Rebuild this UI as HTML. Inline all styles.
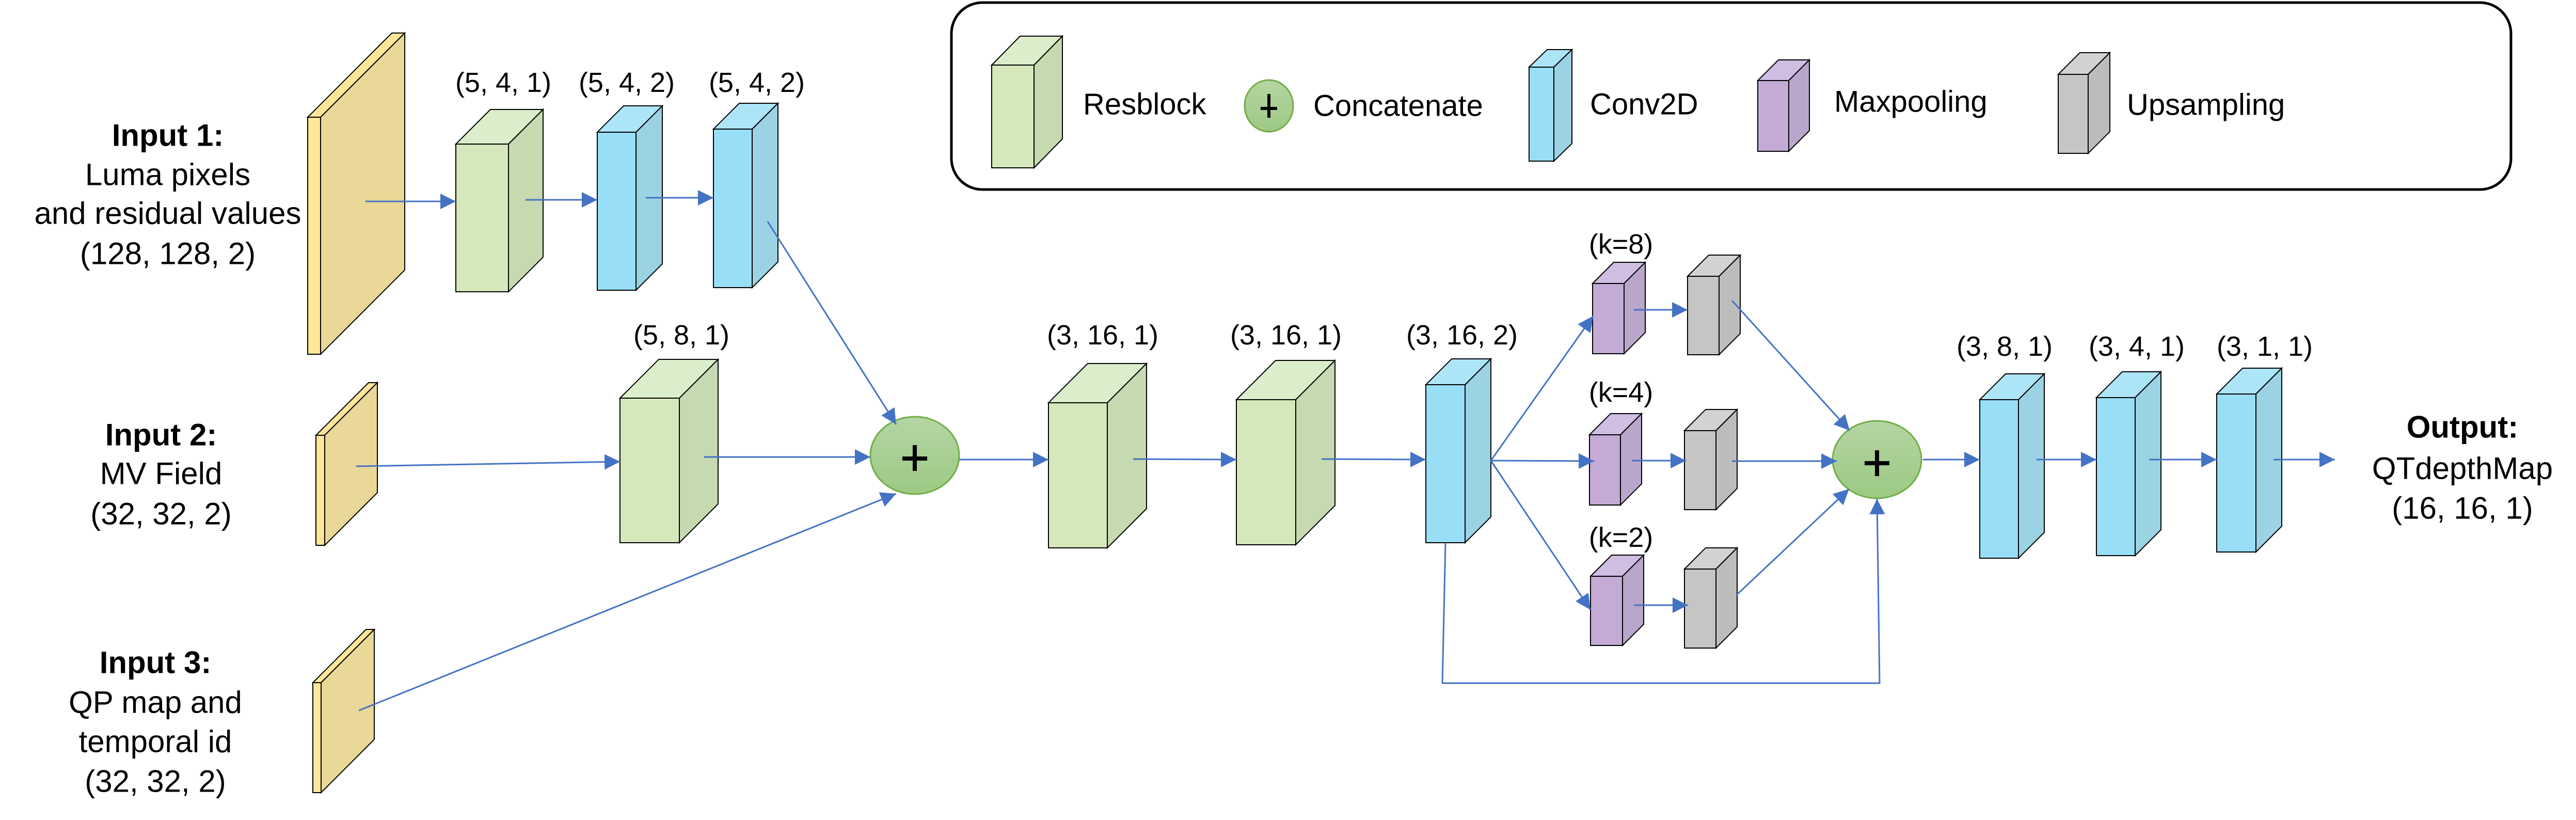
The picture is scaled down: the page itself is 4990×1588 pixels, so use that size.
<!DOCTYPE html>
<html><head><meta charset="utf-8"><style>
html,body{margin:0;padding:0;background:#fff;}
svg{display:block;}
text{font-family:"Liberation Sans",sans-serif;fill:#000;}
</style></head><body>
<svg width="4990" height="1588" viewBox="0 0 4990 1588" xmlns="http://www.w3.org/2000/svg">
<defs>
<marker id="ah" markerUnits="userSpaceOnUse" markerWidth="32" markerHeight="32" refX="30" refY="15" orient="auto">
<path d="M0,0 L30,15 L0,30 Z" fill="#4472c4"/>
</marker>
<linearGradient id="cg" x1="0" y1="0" x2="0" y2="1">
<stop offset="0" stop-color="#b5d5a3"/><stop offset="1" stop-color="#9cc983"/>
</linearGradient>
</defs>

<!-- Legend box -->
<rect x="1843" y="5" width="3021" height="362" rx="60" ry="60" fill="#fff" stroke="#000" stroke-width="5"/>
<g stroke="#000" stroke-width="2">
<rect x="1921" y="126" width="82" height="199" fill="#d5e8bc"/>
<polygon points="1921,126 1976,70 2058,70 2003,126" fill="#dbeecb"/>
<polygon points="2003,126 2058,70 2058,269 2003,325" fill="#c5dab0"/>
<rect x="2962" y="130" width="48" height="182" fill="#99def7"/>
<polygon points="2962,130 2997,96 3045,96 3010,130" fill="#ade5f8"/>
<polygon points="3010,130 3045,96 3045,278 3010,312" fill="#9bd2e4"/>
<rect x="3405" y="156" width="60" height="137" fill="#c4abd6"/>
<polygon points="3405,156 3445,116 3505,116 3465,156" fill="#d0bde2"/>
<polygon points="3465,156 3505,116 3505,253 3465,293" fill="#baa6cb"/>
<rect x="3987" y="144" width="58" height="153" fill="#c6c5c6"/>
<polygon points="3987,144 4029,102 4087,102 4045,144" fill="#d3d2d3"/>
<polygon points="4045,144 4087,102 4087,255 4045,297" fill="#bdbcbd"/>
</g>
<ellipse cx="2458" cy="205" rx="47" ry="50" fill="url(#cg)" stroke="#70ad47" stroke-width="3"/>
<g stroke="#000" stroke-width="6"><line x1="2458" y1="182" x2="2458" y2="228"/><line x1="2442" y1="210" x2="2474" y2="210"/></g>
<g font-size="58" dominant-baseline="central">
<text x="2098" y="202">Resblock</text>
<text x="2544" y="205">Concatenate</text>
<text x="3080" y="202">Conv2D</text>
<text x="3553" y="197">Maxpooling</text>
<text x="4120" y="203">Upsampling</text>
</g>

<!-- Blocks -->
<g stroke="#000" stroke-width="2">
<rect x="596" y="227" width="25" height="459" fill="#ffe699"/>
<polygon points="596,227 759,64 784,64 621,227" fill="#ffe699"/>
<polygon points="621,227 784,64 784,523 621,686" fill="#e9d897"/>
<rect x="612" y="843" width="17" height="213" fill="#ffe699"/>
<polygon points="612,843 714,741 731,741 629,843" fill="#ffe699"/>
<polygon points="629,843 731,741 731,954 629,1056" fill="#e9d897"/>
<rect x="606" y="1322" width="16" height="213" fill="#ffe699"/>
<polygon points="606,1322 709,1219 725,1219 622,1322" fill="#ffe699"/>
<polygon points="622,1322 725,1219 725,1432 622,1535" fill="#e9d897"/>

<rect x="883" y="279" width="102" height="286" fill="#d5e8bc"/>
<polygon points="883,279 950,212 1052,212 985,279" fill="#dbeecb"/>
<polygon points="985,279 1052,212 1052,498 985,565" fill="#c5dab0"/>
<rect x="1157" y="256" width="75" height="306" fill="#99def7"/>
<polygon points="1157,256 1208,205 1283,205 1232,256" fill="#ade5f8"/>
<polygon points="1232,256 1283,205 1283,511 1232,562" fill="#9bd2e4"/>
<rect x="1382" y="250" width="75" height="307" fill="#99def7"/>
<polygon points="1382,250 1432,200 1507,200 1457,250" fill="#ade5f8"/>
<polygon points="1457,250 1507,200 1507,507 1457,557" fill="#9bd2e4"/>
<rect x="1201" y="771" width="115" height="280" fill="#d5e8bc"/>
<polygon points="1201,771 1276,696 1391,696 1316,771" fill="#dbeecb"/>
<polygon points="1316,771 1391,696 1391,976 1316,1051" fill="#c5dab0"/>
<rect x="2031" y="780" width="114" height="281" fill="#d5e8bc"/>
<polygon points="2031,780 2107,704 2221,704 2145,780" fill="#dbeecb"/>
<polygon points="2145,780 2221,704 2221,985 2145,1061" fill="#c5dab0"/>
<rect x="2395" y="774" width="115" height="281" fill="#d5e8bc"/>
<polygon points="2395,774 2471,698 2586,698 2510,774" fill="#dbeecb"/>
<polygon points="2510,774 2586,698 2586,979 2510,1055" fill="#c5dab0"/>
<rect x="2762" y="745" width="76" height="306" fill="#99def7"/>
<polygon points="2762,745 2812,695 2888,695 2838,745" fill="#ade5f8"/>
<polygon points="2838,745 2888,695 2888,1001 2838,1051" fill="#9bd2e4"/>
<rect x="3085" y="549" width="61" height="136" fill="#c4abd6"/>
<polygon points="3085,549 3126,508 3187,508 3146,549" fill="#d0bde2"/>
<polygon points="3146,549 3187,508 3187,644 3146,685" fill="#baa6cb"/>
<rect x="3269" y="535" width="61" height="152" fill="#c6c5c6"/>
<polygon points="3269,535 3310,494 3371,494 3330,535" fill="#d3d2d3"/>
<polygon points="3330,535 3371,494 3371,646 3330,687" fill="#bdbcbd"/>
<rect x="3079" y="842" width="60" height="136" fill="#c4abd6"/>
<polygon points="3079,842 3120,801 3180,801 3139,842" fill="#d0bde2"/>
<polygon points="3139,842 3180,801 3180,937 3139,978" fill="#baa6cb"/>
<rect x="3263" y="834" width="61" height="153" fill="#c6c5c6"/>
<polygon points="3263,834 3304,793 3365,793 3324,834" fill="#d3d2d3"/>
<polygon points="3324,834 3365,793 3365,946 3324,987" fill="#bdbcbd"/>
<rect x="3081" y="1116" width="62" height="134" fill="#c4abd6"/>
<polygon points="3081,1116 3122,1075 3184,1075 3143,1116" fill="#d0bde2"/>
<polygon points="3143,1116 3184,1075 3184,1209 3143,1250" fill="#baa6cb"/>
<rect x="3263" y="1102" width="61" height="153" fill="#c6c5c6"/>
<polygon points="3263,1102 3304,1061 3365,1061 3324,1102" fill="#d3d2d3"/>
<polygon points="3324,1102 3365,1061 3365,1214 3324,1255" fill="#bdbcbd"/>
<rect x="3835" y="774" width="75" height="307" fill="#99def7"/>
<polygon points="3835,774 3885,724 3960,724 3910,774" fill="#ade5f8"/>
<polygon points="3910,774 3960,724 3960,1031 3910,1081" fill="#9bd2e4"/>
<rect x="4061" y="770" width="75" height="306" fill="#99def7"/>
<polygon points="4061,770 4111,720 4186,720 4136,770" fill="#ade5f8"/>
<polygon points="4136,770 4186,720 4186,1026 4136,1076" fill="#9bd2e4"/>
<rect x="4294" y="763" width="76" height="306" fill="#99def7"/>
<polygon points="4294,763 4344,713 4420,713 4370,763" fill="#ade5f8"/>
<polygon points="4370,763 4420,713 4420,1019 4370,1069" fill="#9bd2e4"/>
</g>

<ellipse cx="1772" cy="882" rx="86" ry="75" fill="url(#cg)" stroke="#70ad47" stroke-width="3"/>
<g stroke="#000" stroke-width="8"><line x1="1772" y1="862" x2="1772" y2="912"/><line x1="1748" y1="888" x2="1796" y2="888"/></g>
<ellipse cx="3636" cy="890" rx="86" ry="75" fill="url(#cg)" stroke="#70ad47" stroke-width="3"/>
<g stroke="#000" stroke-width="8"><line x1="3636" y1="872" x2="3636" y2="922"/><line x1="3612" y1="897" x2="3660" y2="897"/></g>

<g stroke="#4472c4" stroke-width="3" fill="none" marker-end="url(#ah)">
<line x1="708" y1="390" x2="883" y2="390"/>
<line x1="1018" y1="387" x2="1157" y2="387"/>
<line x1="1251" y1="383" x2="1382" y2="383"/>
<line x1="1487" y1="429" x2="1736" y2="822"/>
<line x1="690" y1="903" x2="1201" y2="894"/>
<line x1="1364" y1="885" x2="1686" y2="885"/>
<line x1="695" y1="1376" x2="1736" y2="956"/>
<line x1="1858" y1="890" x2="2031" y2="890"/>
<line x1="2195" y1="889" x2="2395" y2="890"/>
<line x1="2560" y1="889" x2="2762" y2="890"/>
<line x1="2888" y1="892" x2="3086" y2="612"/>
<line x1="2888" y1="892" x2="3088" y2="893"/>
<line x1="2888" y1="892" x2="3081" y2="1181"/>
<line x1="3165" y1="600" x2="3269" y2="600"/>
<line x1="3161" y1="892" x2="3266" y2="892"/>
<line x1="3165" y1="1172" x2="3270" y2="1172"/>
<line x1="3355" y1="582" x2="3583" y2="834"/>
<line x1="3355" y1="893" x2="3558" y2="893"/>
<line x1="3363" y1="1153" x2="3582" y2="947"/>
<polyline points="2800,1051 2794,1323 3641,1323 3636,966"/>
<line x1="3725" y1="890" x2="3835" y2="890"/>
<line x1="3945" y1="890" x2="4061" y2="890"/>
<line x1="4163" y1="890" x2="4294" y2="890"/>
<line x1="4404" y1="890" x2="4523" y2="890"/>
</g>

<g font-size="54" text-anchor="middle" dominant-baseline="central">
<text x="975" y="160">(5, 4, 1)</text>
<text x="1214" y="160">(5, 4, 2)</text>
<text x="1466" y="160">(5, 4, 2)</text>
<text x="1320" y="649">(5, 8, 1)</text>
<text x="2136" y="649">(3, 16, 1)</text>
<text x="2491" y="649">(3, 16, 1)</text>
<text x="2832" y="649">(3, 16, 2)</text>
<text x="3140" y="473">(k=8)</text>
<text x="3140" y="760">(k=4)</text>
<text x="3140" y="1041">(k=2)</text>
<text x="3883" y="671">(3, 8, 1)</text>
<text x="4139" y="671">(3, 4, 1)</text>
<text x="4387" y="671">(3, 1, 1)</text>
</g>
<g font-size="60" text-anchor="middle" dominant-baseline="central">
<text x="325" y="262" font-weight="bold">Input 1:</text>
<text x="325" y="338">Luma pixels</text>
<text x="325" y="413">and residual values</text>
<text x="325" y="491">(128, 128, 2)</text>
<text x="312" y="842" font-weight="bold">Input 2:</text>
<text x="312" y="917">MV Field</text>
<text x="312" y="995">(32, 32, 2)</text>
<text x="301" y="1283" font-weight="bold">Input 3:</text>
<text x="301" y="1360">QP map and</text>
<text x="301" y="1436">temporal id</text>
<text x="301" y="1513">(32, 32, 2)</text>
<text x="4770" y="827" font-weight="bold">Output:</text>
<text x="4770" y="907">QTdepthMap</text>
<text x="4770" y="984">(16, 16, 1)</text>
</g>
</svg>
</body></html>
